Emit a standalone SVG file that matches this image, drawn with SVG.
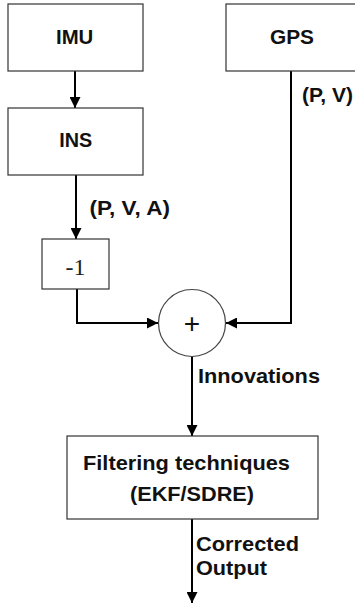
<svg xmlns="http://www.w3.org/2000/svg" width="355" height="604" viewBox="0 0 355 604">
<style>
.box{fill:#fff;stroke:#333;stroke-width:1.2}
.lbl{font-family:"Liberation Sans",Arial,sans-serif;font-weight:bold;font-size:21px;fill:#111}
.ln{fill:none;stroke:#000;stroke-width:2}
</style>
<defs>
<marker id="ah" markerWidth="11" markerHeight="11" refX="11" refY="5.5" orient="auto" markerUnits="userSpaceOnUse">
<path d="M0,0 L11,5.5 L0,11 z" fill="#000"/>
</marker>
</defs>
<rect width="355" height="604" fill="#fff"/>
<g id="connectors">
<line class="ln" x1="75" y1="71" x2="75" y2="108" marker-end="url(#ah)"/>
<line class="ln" x1="76" y1="175" x2="76" y2="239" marker-end="url(#ah)"/>
<polyline class="ln" points="77,289 77,323 158,323" marker-end="url(#ah)"/>
<polyline class="ln" points="291,71 291,323 226,323" marker-end="url(#ah)"/>
<line class="ln" x1="192" y1="356" x2="192" y2="436" marker-end="url(#ah)"/>
<line class="ln" x1="192" y1="519" x2="192" y2="603" marker-end="url(#ah)"/>
<text class="lbl" x="302" y="102" textLength="51" lengthAdjust="spacingAndGlyphs">(P, V)</text>
<text class="lbl" x="89.5" y="215" textLength="80.5" lengthAdjust="spacingAndGlyphs">(P, V, A)</text>
<text class="lbl" x="198" y="383" textLength="122" lengthAdjust="spacingAndGlyphs">Innovations</text>
<text class="lbl" x="196" y="551" textLength="103" lengthAdjust="spacingAndGlyphs">Corrected</text>
<text class="lbl" x="196" y="575" textLength="71" lengthAdjust="spacingAndGlyphs">Output</text>
</g>
<g id="imu">
<rect class="box" x="8" y="4" width="135" height="67"/>
<text class="lbl" x="56" y="44.3" textLength="37.3" lengthAdjust="spacingAndGlyphs">IMU</text>
</g>
<g id="gps">
<rect class="box" x="226" y="4" width="140" height="67"/>
<text class="lbl" x="270" y="44" textLength="44" lengthAdjust="spacingAndGlyphs">GPS</text>
</g>
<g id="ins">
<rect class="box" x="8" y="108" width="135" height="67"/>
<text class="lbl" x="59.3" y="147" textLength="33" lengthAdjust="spacingAndGlyphs">INS</text>
</g>
<g id="neg">
<rect class="box" x="42" y="239" width="67" height="50"/>
<text x="75.5" y="275" text-anchor="middle" font-family="'Liberation Serif','Times New Roman',serif" font-size="24" fill="#222">-1</text>
</g>
<g id="sum">
<circle cx="192" cy="323" r="33.5" fill="#fff" stroke="#444" stroke-width="1.2"/>
<text x="192" y="333" text-anchor="middle" font-family="'Liberation Sans',Arial,sans-serif" font-size="28" fill="#111">+</text>
</g>
<g id="filter">
<rect class="box" x="67" y="436" width="251" height="83"/>
<text class="lbl" x="83" y="470" textLength="207" lengthAdjust="spacingAndGlyphs">Filtering techniques</text>
<text class="lbl" x="130" y="500.5" textLength="124" lengthAdjust="spacingAndGlyphs">(EKF/SDRE)</text>
</g>
</svg>
